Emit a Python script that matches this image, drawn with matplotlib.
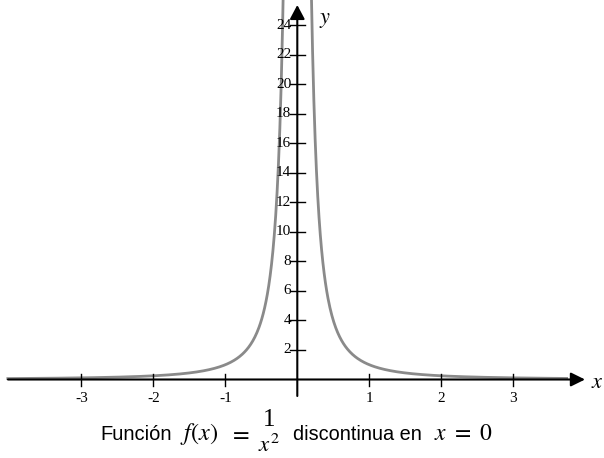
import numpy as np
import matplotlib
matplotlib.use('Agg')
import matplotlib.pyplot as plt

plt.rcParams['mathtext.fontset'] = 'stix'

# ticks on the axes
x_ticks = [-3, -2, -1, 1, 2, 3]
x_tick_labels = ['-3', '-2', '-1', '1', '2', '3']
y_ticks = [2, 4, 6, 8, 10, 12, 14, 16, 18, 20, 22, 24]
y_tick_labels = ['2', '4', '6', '8', '10', '12', '14', '16', '18', '20', '22', '24']

# f(x) = 1/x^2, drawn on both sides of the pole
x_left = np.linspace(-4.04, -1 / np.sqrt(26.5), 400)
x_right = np.linspace(1 / np.sqrt(26.5), 3.76, 400)
y_left = 1 / x_left ** 2
y_right = 1 / x_right ** 2

fig = plt.figure(figsize=(6.04, 4.58), dpi=100)
ax = fig.add_axes([0, 0, 1, 1])
ax.set_axis_off()

# 72 px per unit in x, 14.76 px per unit in y, origin at (297.3, 379.5)
sx, sy = 72.0, 14.76
ox, oy = 297.3, 379.5
ax.set_xlim(-ox / sx, (604 - ox) / sx)
ax.set_ylim(-(458 - oy) / sy, oy / sy)

curve_col = '#8a8a8a'
ax.plot(x_left, y_left, color=curve_col, lw=2.0, solid_capstyle='butt', zorder=2)
ax.plot(x_right, y_right, color=curve_col, lw=2.0, solid_capstyle='butt', zorder=2)

# axes with arrow heads
ax.annotate('', xy=(585 / sx - ox / sx, 0), xytext=(8 / sx - ox / sx, 0),
            arrowprops=dict(arrowstyle='-|>,head_length=0.85,head_width=0.42',
                            lw=1.5, color='k', shrinkA=0, shrinkB=0), zorder=3)
ax.annotate('', xy=(0, (oy - 5) / sy), xytext=(0, -(396 - oy) / sy),
            arrowprops=dict(arrowstyle='-|>,head_length=0.85,head_width=0.45',
                            lw=1.5, color='k', shrinkA=0, shrinkB=0), zorder=3)

tfont = dict(family='Liberation Serif', size=11)
for xv, lab in zip(x_ticks, x_tick_labels):
    ax.plot([xv, xv], [6 / sy, -6 / sy], color='k', lw=1.0, zorder=3)
    ax.text(xv, -19 / sy, lab, ha='center', va='center', **tfont)
for yv, lab in zip(y_ticks, y_tick_labels):
    ax.plot([-7 / sx, 8 / sx], [yv, yv], color='k', lw=1.0, zorder=3)
    ax.text(-6 / sx, yv, lab, ha='right', va='center', **tfont)

ax.text((597 - ox) / sx, -3 / sy, '$x$', ha='center', va='center', fontsize=16)
ax.text((325 - ox) / sx, (oy - 20) / sy, '$y$', ha='center', va='center', fontsize=16)


# caption, placed piece by piece in pixel coordinates
def cap(px, py, s, **kw):
    fig.text(px / 604, 1 - py / 458, s, va='baseline', **kw)


cap(100, 440, 'Función', family='Liberation Sans', fontsize=14.5)
cap(180, 440, '$f(x)$', fontsize=17.5)
cap(229, 440, '$=$', fontsize=17.5)
cap(269, 426, '1', ha='center', family='Liberation Serif', fontsize=18)
cap(269, 452, '$x^2$', ha='center', fontsize=16.5)
cap(293, 440, 'discontinua en', family='Liberation Sans', fontsize=14.3)
cap(434, 440, '$x\\ =\\ 0$', fontsize=17)

fig.savefig('out.png', dpi=100)
